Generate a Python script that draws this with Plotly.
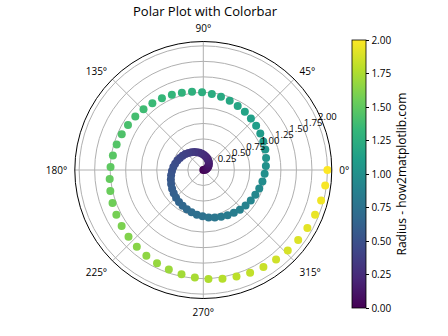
import plotly.graph_objects as go

# Spiral sample points: radius and angle (degrees)
radius = [0.000, 0.020, 0.040, 0.061, 0.081, 0.101, 0.121, 0.141, 0.162, 0.182,
          0.202, 0.222, 0.242, 0.263, 0.283, 0.303, 0.323, 0.343, 0.364, 0.384,
          0.404, 0.424, 0.444, 0.465, 0.485, 0.505, 0.525, 0.545, 0.566, 0.586,
          0.606, 0.626, 0.646, 0.667, 0.687, 0.707, 0.727, 0.747, 0.768, 0.788,
          0.808, 0.828, 0.848, 0.869, 0.889, 0.909, 0.929, 0.949, 0.970, 0.990,
          1.010, 1.030, 1.051, 1.071, 1.091, 1.111, 1.131, 1.152, 1.172, 1.192,
          1.212, 1.232, 1.253, 1.273, 1.293, 1.313, 1.333, 1.354, 1.374, 1.394,
          1.414, 1.434, 1.455, 1.475, 1.495, 1.515, 1.535, 1.556, 1.576, 1.596,
          1.616, 1.636, 1.657, 1.677, 1.697, 1.717, 1.737, 1.758, 1.778, 1.798,
          1.818, 1.838, 1.859, 1.879, 1.899, 1.919, 1.939, 1.960, 1.980, 2.000]
theta_deg = [0.0, 7.3, 14.5, 21.8, 29.1, 36.4, 43.6, 50.9, 58.2, 65.5,
             72.7, 80.0, 87.3, 94.5, 101.8, 109.1, 116.4, 123.6, 130.9, 138.2,
             145.5, 152.7, 160.0, 167.3, 174.5, 181.8, 189.1, 196.4, 203.6, 210.9,
             218.2, 225.5, 232.7, 240.0, 247.3, 254.5, 261.8, 269.1, 276.4, 283.6,
             290.9, 298.2, 305.5, 312.7, 320.0, 327.3, 334.5, 341.8, 349.1, 356.4,
             363.6, 370.9, 378.2, 385.5, 392.7, 400.0, 407.3, 414.5, 421.8, 429.1,
             436.4, 443.6, 450.9, 458.2, 465.5, 472.7, 480.0, 487.3, 494.5, 501.8,
             509.1, 516.4, 523.6, 530.9, 538.2, 545.5, 552.7, 560.0, 567.3, 574.5,
             581.8, 589.1, 596.4, 603.6, 610.9, 618.2, 625.5, 632.7, 640.0, 647.3,
             654.5, 661.8, 669.1, 676.4, 683.6, 690.9, 698.2, 705.5, 712.7, 720.0]

radial_ticks = [0.25, 0.50, 0.75, 1.00, 1.25, 1.50, 1.75, 2.00]
radial_labels = ["0.25", "0.50", "0.75", "1.00", "1.25", "1.50", "1.75", "2.00"]
radial_label_angle = 22.5
angle_ticks = [0, 45, 90, 135, 180, 225, 270, 315]
angle_labels = ["0°", "45°", "90°", "135°", "180°", "225°", "270°", "315°"]
cbar_ticks = [0.0, 0.25, 0.5, 0.75, 1.0, 1.25, 1.5, 1.75, 2.0]
cbar_labels = ["0.00", "0.25", "0.50", "0.75", "1.00", "1.25", "1.50", "1.75", "2.00"]

W, H = 448, 336
FONT = "Open Sans"

fig = go.Figure()

fig.add_trace(go.Scatterpolar(
    r=radius,
    theta=theta_deg,
    mode="markers",
    marker=dict(
        size=8,
        color=radius,
        colorscale="Viridis",
        cmin=0, cmax=2,
        line=dict(width=0),
        colorbar=dict(
            x=351.5 / W, xanchor="left", xpad=0,
            y=1 - 174 / H, yanchor="middle", ypad=0,
            len=268, lenmode="pixels",
            thickness=14, thicknessmode="pixels",
            outlinewidth=0.8, outlinecolor="black",
            tickvals=cbar_ticks, ticktext=cbar_labels,
            ticks="outside", ticklen=3.5, tickwidth=0.8, tickcolor="black",
            tickfont=dict(family=FONT, size=10, color="black"),
            title=dict(text="Radius - how2matplotlib.com", side="right",
                       font=dict(family=FONT, size=12, color="black")),
        ),
    ),
    showlegend=False,
    hoverinfo="r+theta",
))

# Radial tick labels laid along the 22.5° direction
fig.add_trace(go.Scatterpolar(
    r=radial_ticks,
    theta=[radial_label_angle] * len(radial_ticks),
    mode="text",
    text=radial_labels,
    textposition="top right",
    textfont=dict(family=FONT, size=9.5, color="black"),
    showlegend=False,
    hoverinfo="skip",
    cliponaxis=False,
))

cx, cy, R = 203.3, 170.0, 128.5
fig.update_layout(
    width=W, height=H,
    margin=dict(l=0, r=0, t=0, b=0),
    paper_bgcolor="white",
    font=dict(family=FONT, size=10, color="black"),
    title=dict(text="Polar Plot with Colorbar", x=205 / W, xanchor="center",
               y=1 - 11 / H, yanchor="middle",
               font=dict(family=FONT, size=13, color="black")),
    polar=dict(
        domain=dict(x=[(cx - R) / W, (cx + R) / W],
                    y=[1 - (cy + R) / H, 1 - (cy - R) / H]),
        bgcolor="white",
        radialaxis=dict(
            range=[0, 2.07],
            tickvals=radial_ticks,
            showticklabels=False,
            showline=False, ticks="",
            gridcolor="#b0b0b0", gridwidth=0.8,
        ),
        angularaxis=dict(
            direction="counterclockwise", rotation=0,
            tickvals=angle_ticks, ticktext=angle_labels,
            ticks="outside", ticklen=5, tickcolor="rgba(0,0,0,0)",
            showline=True, linecolor="black", linewidth=1,
            gridcolor="#b0b0b0", gridwidth=0.8,
            tickfont=dict(family=FONT, size=10, color="black"),
        ),
    ),
)

fig.write_html("out.html")
